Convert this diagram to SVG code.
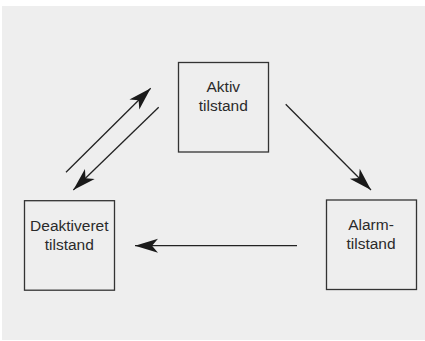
<svg xmlns="http://www.w3.org/2000/svg" width="425" height="341" viewBox="0 0 425 341">
<style>
.box{fill:#eeeeee;stroke:#333333;stroke-width:1.3}
.lbl{font-family:"Liberation Sans",Arial,sans-serif;font-size:15.5px;fill:#2a2a2a;text-anchor:middle}
.conn{stroke:#222222;stroke-width:1.3;fill:none;marker-end:url(#ah)}
</style>
<defs>
<marker id="ah" markerUnits="userSpaceOnUse" markerWidth="24" markerHeight="15" refX="23" refY="7.5" orient="auto" overflow="visible">
<path d="M23,7.5 L0,0.5 L6,7.5 L0,14.5 z" fill="#1a1a1a"/>
</marker>
</defs>
<rect x="0" y="0" width="425" height="341" fill="#ffffff"/>
<rect x="2" y="6" width="423" height="334" fill="#eeeeee"/>
<g id="aktiv">
<rect class="box" x="178.5" y="62.5" width="90" height="89.5"/>
<text class="lbl" x="223.3" y="91.7">Aktiv</text>
<text class="lbl" x="223.3" y="110.7">tilstand</text>
</g>
<g id="deaktiveret">
<rect class="box" x="24.5" y="200.7" width="90" height="89.5"/>
<text class="lbl" x="69.3" y="231">Deaktiveret</text>
<text class="lbl" x="69.3" y="249.5">tilstand</text>
</g>
<g id="alarm">
<rect class="box" x="326.5" y="200" width="90" height="89.5"/>
<text class="lbl" x="371" y="230">Alarm-</text>
<text class="lbl" x="371" y="248.7">tilstand</text>
</g>
<g id="connectors">
<line class="conn" x1="66" y1="172.3" x2="150.7" y2="88.3"/>
<line class="conn" x1="158.7" y1="107.3" x2="73.3" y2="190"/>
<line class="conn" x1="285.7" y1="104.3" x2="371" y2="190"/>
<line class="conn" x1="297" y1="245.7" x2="135" y2="245.7"/>
</g>
</svg>
